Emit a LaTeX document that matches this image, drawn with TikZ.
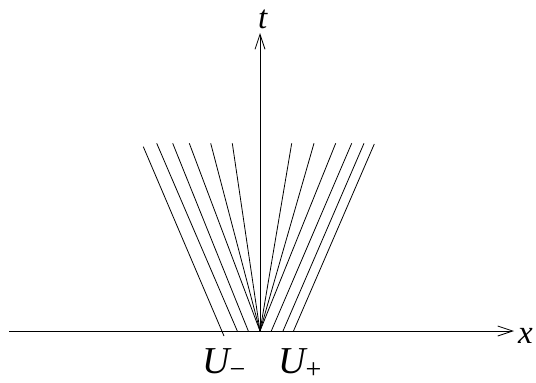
\documentclass[tikz,border=0pt]{standalone}
\usepackage{fontspec}
\setmainfont{Liberation Serif}
\usetikzlibrary{arrows.meta}
\begin{document}
\begin{tikzpicture}[x=1pt,y=-1pt,
  axis/.style={line width=0.8pt,-{Straight Barb[length=15pt,width=10pt,line width=0.8pt]}},
  fan/.style={line width=0.8pt},
  lbl/.style={inner sep=0pt,anchor=base west,font=\fontsize{33}{36}\selectfont\itshape},
  ulbl/.style={inner sep=0pt,anchor=base west,font=\fontsize{38}{40}\selectfont\itshape}]
\useasboundingbox (0,0) rectangle (536,383);
% axes
\coordinate (O) at (260,331);
\coordinate (xs) at (9,331);
\coordinate (xe) at (514,331);
\coordinate (te) at (260,33);
\draw[axis] (xs) -- (xe);
\draw[axis] (O) -- (te);
\node[lbl] (xl) at (518,343) {x};
\node[lbl] (tl) at (258,28) {t};
\node[ulbl] (um) at (202,373) {U\raisebox{-5pt}{\fontsize{28}{28}\selectfont\upshape −}};
\node[ulbl] (up) at (278,373) {U\raisebox{-5pt}{\fontsize{28}{28}\selectfont\upshape +}};
% left fan
\coordinate (a1) at (143.3,146.7); \coordinate (b1) at (224,336);
\coordinate (a2) at (156.7,143.3); \coordinate (b2) at (237.3,331);
\coordinate (a3) at (172.7,143.3); \coordinate (b3) at (248.3,331);
\coordinate (a4) at (189.3,143.3);
\coordinate (a5) at (210.7,143.3);
\coordinate (a6) at (232.3,143.3);
\draw[fan] (a1) -- (b1);
\draw[fan] (a2) -- (b2);
\draw[fan] (a3) -- (b3);
\draw[fan] (a4) -- (O);
\draw[fan] (a5) -- (O);
\draw[fan] (a6) -- (O);
% right fan
\coordinate (c1) at (291.7,143.3);
\coordinate (c2) at (314,143.3);
\coordinate (c3) at (335.7,143.3);
\coordinate (c4) at (351.7,143.3); \coordinate (d4) at (271.3,331);
\coordinate (c5) at (364,143.3);   \coordinate (d5) at (283,331);
\coordinate (c6) at (374.3,144);   \coordinate (d6) at (293.5,331);
\draw[fan] (c1) -- (O);
\draw[fan] (c2) -- (O);
\draw[fan] (c3) -- (O);
\draw[fan] (c4) -- (d4);
\draw[fan] (c5) -- (d5);
\draw[fan] (c6) -- (d6);
\end{tikzpicture}
\end{document}
